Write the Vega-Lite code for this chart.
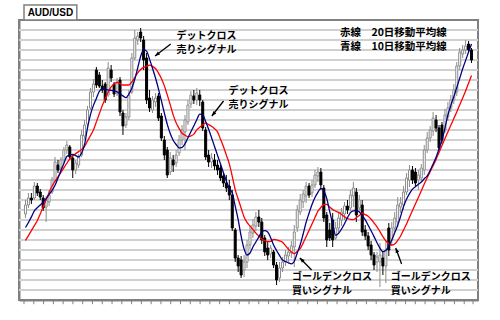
{
"$schema": "https://vega.github.io/schema/vega-lite/v6.json",
"width": 459, "height": 280,
"autosize": {"type": "none"},
"padding": {"left": 19, "top": 20, "right": 22, "bottom": 20},
"background": "white",
"config": {"view": {"stroke": "#808080", "strokeWidth": 2},
"axisY": {"grid": false, "labels": false, "ticks": false, "domainColor": "#808080", "domainWidth": 2},
"axisX": {"grid": false, "labels": false, "ticks": false, "domainColor": "#808080", "domainWidth": 2}},
"datasets": {
"levels": [{"p":0.71},{"p":0.72},{"p":0.73},{"p":0.74},{"p":0.75},{"p":0.76},{"p":0.77},{"p":0.78},{"p":0.79},{"p":0.80},{"p":0.81},{"p":0.82},{"p":0.83},{"p":0.84},{"p":0.85},{"p":0.86},{"p":0.87},{"p":0.88},{"p":0.89},{"p":0.90},{"p":0.91},{"p":0.92},{"p":0.93},{"p":0.94},{"p":0.95},{"p":0.96},{"p":0.97}],
"ticks": [{"t":0.5},{"t":3.8116},{"t":7.1231},{"t":10.4347},{"t":13.7462},{"t":17.0578},{"t":20.3693},{"t":23.6809},{"t":26.9924},{"t":30.304},{"t":33.6155},{"t":36.9271},{"t":40.2386},{"t":43.5502},{"t":46.8617},{"t":50.1733},{"t":53.4848},{"t":56.7964},{"t":60.1079},{"t":63.4195},{"t":66.731},{"t":70.0426},{"t":73.3541},{"t":76.6657},{"t":79.9772},{"t":83.2888},{"t":86.6003},{"t":89.9119},{"t":93.2234},{"t":96.535},{"t":99.8465},{"t":103.1581},{"t":106.4696},{"t":109.7812},{"t":113.0927},{"t":116.4043},{"t":119.7158},{"t":123.0274},{"t":126.3389},{"t":129.6505},{"t":132.962},{"t":136.2736},{"t":139.5851},{"t":142.8967},{"t":146.2082},{"t":149.5198},{"t":152.5}],
"candles": [
{"t":1,"o":0.786,"h":0.800,"l":0.782,"c":0.795,"m10":0.7725,"m20":0.7595},
{"t":2,"o":0.795,"h":0.807,"l":0.792,"c":0.802,"m10":0.7775,"m20":0.7644},
{"t":3,"o":0.802,"h":0.807,"l":0.796,"c":0.800,"m10":0.7831,"m20":0.7694},
{"t":4,"o":0.802,"h":0.818,"l":0.800,"c":0.814,"m10":0.7892,"m20":0.7743},
{"t":5,"o":0.814,"h":0.817,"l":0.804,"c":0.807,"m10":0.7923,"m20":0.7793},
{"t":6,"o":0.808,"h":0.811,"l":0.800,"c":0.803,"m10":0.795,"m20":0.7861},
{"t":7,"o":0.802,"h":0.805,"l":0.789,"c":0.792,"m10":0.7978,"m20":0.7933},
{"t":8,"o":0.793,"h":0.804,"l":0.778,"c":0.800,"m10":0.8013,"m20":0.8004},
{"t":9,"o":0.798,"h":0.810,"l":0.794,"c":0.805,"m10":0.8055,"m20":0.8075},
{"t":10,"o":0.808,"h":0.823,"l":0.806,"c":0.820,"m10":0.8097,"m20":0.814},
{"t":11,"o":0.820,"h":0.843,"l":0.818,"c":0.838,"m10":0.8147,"m20":0.8186},
{"t":12,"o":0.835,"h":0.840,"l":0.827,"c":0.830,"m10":0.822,"m20":0.8231},
{"t":13,"o":0.832,"h":0.843,"l":0.829,"c":0.840,"m10":0.8294,"m20":0.8276},
{"t":14,"o":0.840,"h":0.853,"l":0.837,"c":0.850,"m10":0.8365,"m20":0.8322},
{"t":15,"o":0.850,"h":0.859,"l":0.846,"c":0.855,"m10":0.8435,"m20":0.8367},
{"t":16,"o":0.853,"h":0.855,"l":0.840,"c":0.843,"m10":0.845,"m20":0.8412},
{"t":17,"o":0.842,"h":0.845,"l":0.822,"c":0.830,"m10":0.8457,"m20":0.8443},
{"t":18,"o":0.830,"h":0.840,"l":0.826,"c":0.837,"m10":0.8444,"m20":0.8464},
{"t":19,"o":0.835,"h":0.846,"l":0.832,"c":0.843,"m10":0.8431,"m20":0.8484},
{"t":20,"o":0.845,"h":0.870,"l":0.843,"c":0.865,"m10":0.847,"m20":0.8505},
{"t":21,"o":0.864,"h":0.880,"l":0.861,"c":0.875,"m10":0.8555,"m20":0.8536},
{"t":22,"o":0.876,"h":0.894,"l":0.873,"c":0.890,"m10":0.8721,"m20":0.8591},
{"t":23,"o":0.892,"h":0.912,"l":0.890,"c":0.908,"m10":0.8854,"m20":0.8645},
{"t":24,"o":0.908,"h":0.921,"l":0.903,"c":0.916,"m10":0.8946,"m20":0.8699},
{"t":25,"o":0.930,"h":0.933,"l":0.912,"c":0.915,"m10":0.9016,"m20":0.8781},
{"t":26,"o":0.925,"h":0.928,"l":0.912,"c":0.914,"m10":0.9087,"m20":0.8862},
{"t":27,"o":0.914,"h":0.920,"l":0.907,"c":0.910,"m10":0.9108,"m20":0.8944},
{"t":28,"o":0.916,"h":0.918,"l":0.897,"c":0.900,"m10":0.9105,"m20":0.9014},
{"t":29,"o":0.905,"h":0.938,"l":0.903,"c":0.932,"m10":0.9102,"m20":0.9079},
{"t":30,"o":0.930,"h":0.935,"l":0.918,"c":0.922,"m10":0.9097,"m20":0.9131},
{"t":31,"o":0.916,"h":0.918,"l":0.903,"c":0.906,"m10":0.909,"m20":0.9161},
{"t":32,"o":0.906,"h":0.922,"l":0.904,"c":0.918,"m10":0.9082,"m20":0.9175},
{"t":33,"o":0.920,"h":0.923,"l":0.884,"c":0.888,"m10":0.9064,"m20":0.9163},
{"t":34,"o":0.887,"h":0.890,"l":0.865,"c":0.874,"m10":0.9041,"m20":0.915},
{"t":35,"o":0.875,"h":0.887,"l":0.872,"c":0.883,"m10":0.9023,"m20":0.915},
{"t":36,"o":0.883,"h":0.910,"l":0.880,"c":0.905,"m10":0.9059,"m20":0.915},
{"t":37,"o":0.908,"h":0.947,"l":0.906,"c":0.942,"m10":0.9117,"m20":0.9181},
{"t":38,"o":0.942,"h":0.970,"l":0.940,"c":0.962,"m10":0.9207,"m20":0.9224},
{"t":39,"o":0.960,"h":0.968,"l":0.955,"c":0.964,"m10":0.9321,"m20":0.9272},
{"t":40,"o":0.968,"h":0.972,"l":0.958,"c":0.962,"m10":0.9437,"m20":0.9306},
{"t":41,"o":0.960,"h":0.964,"l":0.930,"c":0.940,"m10":0.9504,"m20":0.9326},
{"t":42,"o":0.942,"h":0.947,"l":0.896,"c":0.900,"m10":0.9489,"m20":0.9338},
{"t":43,"o":0.902,"h":0.910,"l":0.888,"c":0.892,"m10":0.9409,"m20":0.9348},
{"t":44,"o":0.890,"h":0.904,"l":0.887,"c":0.900,"m10":0.9318,"m20":0.9336},
{"t":45,"o":0.898,"h":0.907,"l":0.893,"c":0.902,"m10":0.9222,"m20":0.9315},
{"t":46,"o":0.904,"h":0.907,"l":0.879,"c":0.882,"m10":0.9114,"m20":0.9272},
{"t":47,"o":0.884,"h":0.887,"l":0.859,"c":0.862,"m10":0.8993,"m20":0.9216},
{"t":48,"o":0.860,"h":0.864,"l":0.840,"c":0.845,"m10":0.8872,"m20":0.9144},
{"t":49,"o":0.850,"h":0.853,"l":0.822,"c":0.825,"m10":0.8756,"m20":0.9051},
{"t":50,"o":0.828,"h":0.848,"l":0.825,"c":0.842,"m10":0.8665,"m20":0.8954},
{"t":51,"o":0.840,"h":0.845,"l":0.828,"c":0.835,"m10":0.8598,"m20":0.8851},
{"t":52,"o":0.837,"h":0.850,"l":0.833,"c":0.845,"m10":0.8555,"m20":0.8772},
{"t":53,"o":0.847,"h":0.865,"l":0.844,"c":0.860,"m10":0.8521,"m20":0.8716},
{"t":54,"o":0.860,"h":0.875,"l":0.855,"c":0.870,"m10":0.8527,"m20":0.8667},
{"t":55,"o":0.868,"h":0.885,"l":0.850,"c":0.880,"m10":0.8562,"m20":0.8649},
{"t":56,"o":0.878,"h":0.900,"l":0.875,"c":0.895,"m10":0.8622,"m20":0.8632},
{"t":57,"o":0.896,"h":0.909,"l":0.892,"c":0.905,"m10":0.8682,"m20":0.864},
{"t":58,"o":0.904,"h":0.910,"l":0.896,"c":0.900,"m10":0.8743,"m20":0.8659},
{"t":59,"o":0.900,"h":0.912,"l":0.895,"c":0.907,"m10":0.8803,"m20":0.8701},
{"t":60,"o":0.905,"h":0.910,"l":0.894,"c":0.900,"m10":0.8858,"m20":0.8727},
{"t":61,"o":0.898,"h":0.900,"l":0.869,"c":0.872,"m10":0.8852,"m20":0.8751},
{"t":62,"o":0.870,"h":0.873,"l":0.840,"c":0.843,"m10":0.8785,"m20":0.8769},
{"t":63,"o":0.845,"h":0.850,"l":0.833,"c":0.838,"m10":0.8707,"m20":0.8754},
{"t":64,"o":0.838,"h":0.847,"l":0.832,"c":0.842,"m10":0.8622,"m20":0.8737},
{"t":65,"o":0.840,"h":0.846,"l":0.830,"c":0.834,"m10":0.8535,"m20":0.8712},
{"t":66,"o":0.835,"h":0.840,"l":0.825,"c":0.830,"m10":0.8449,"m20":0.8682},
{"t":67,"o":0.832,"h":0.835,"l":0.819,"c":0.822,"m10":0.8362,"m20":0.861},
{"t":68,"o":0.824,"h":0.828,"l":0.813,"c":0.817,"m10":0.8275,"m20":0.8535},
{"t":69,"o":0.817,"h":0.825,"l":0.808,"c":0.812,"m10":0.819,"m20":0.8449},
{"t":70,"o":0.814,"h":0.820,"l":0.800,"c":0.805,"m10":0.8117,"m20":0.8362},
{"t":71,"o":0.805,"h":0.810,"l":0.769,"c":0.772,"m10":0.8072,"m20":0.8237},
{"t":72,"o":0.770,"h":0.772,"l":0.738,"c":0.742,"m10":0.7939,"m20":0.8104},
{"t":73,"o":0.742,"h":0.745,"l":0.728,"c":0.734,"m10":0.7803,"m20":0.801},
{"t":74,"o":0.740,"h":0.744,"l":0.722,"c":0.725,"m10":0.764,"m20":0.792},
{"t":75,"o":0.730,"h":0.745,"l":0.723,"c":0.738,"m10":0.7511,"m20":0.783},
{"t":76,"o":0.738,"h":0.760,"l":0.732,"c":0.755,"m10":0.745,"m20":0.7776},
{"t":77,"o":0.755,"h":0.774,"l":0.751,"c":0.768,"m10":0.747,"m20":0.774},
{"t":78,"o":0.767,"h":0.781,"l":0.762,"c":0.775,"m10":0.753,"m20":0.7704},
{"t":79,"o":0.774,"h":0.788,"l":0.769,"c":0.783,"m10":0.758,"m20":0.7669},
{"t":80,"o":0.783,"h":0.790,"l":0.773,"c":0.778,"m10":0.7631,"m20":0.7639},
{"t":81,"o":0.778,"h":0.782,"l":0.756,"c":0.760,"m10":0.768,"m20":0.7609},
{"t":82,"o":0.762,"h":0.765,"l":0.744,"c":0.748,"m10":0.7693,"m20":0.7594},
{"t":83,"o":0.752,"h":0.758,"l":0.740,"c":0.745,"m10":0.7681,"m20":0.7585},
{"t":84,"o":0.746,"h":0.755,"l":0.742,"c":0.752,"m10":0.7623,"m20":0.7587},
{"t":85,"o":0.748,"h":0.750,"l":0.732,"c":0.735,"m10":0.755,"m20":0.7605},
{"t":86,"o":0.735,"h":0.738,"l":0.715,"c":0.720,"m10":0.7495,"m20":0.7602},
{"t":87,"o":0.722,"h":0.738,"l":0.718,"c":0.732,"m10":0.7446,"m20":0.7591},
{"t":88,"o":0.732,"h":0.743,"l":0.728,"c":0.738,"m10":0.7399,"m20":0.7578},
{"t":89,"o":0.738,"h":0.750,"l":0.734,"c":0.745,"m10":0.7386,"m20":0.7543},
{"t":90,"o":0.744,"h":0.753,"l":0.738,"c":0.748,"m10":0.7372,"m20":0.7509},
{"t":91,"o":0.747,"h":0.759,"l":0.742,"c":0.754,"m10":0.7361,"m20":0.7482},
{"t":92,"o":0.753,"h":0.775,"l":0.733,"c":0.768,"m10":0.7388,"m20":0.7463},
{"t":93,"o":0.772,"h":0.795,"l":0.768,"c":0.790,"m10":0.747,"m20":0.7488},
{"t":94,"o":0.788,"h":0.806,"l":0.785,"c":0.800,"m10":0.7552,"m20":0.7514},
{"t":95,"o":0.798,"h":0.810,"l":0.792,"c":0.806,"m10":0.766,"m20":0.7569},
{"t":96,"o":0.804,"h":0.818,"l":0.797,"c":0.814,"m10":0.7776,"m20":0.7633},
{"t":97,"o":0.814,"h":0.817,"l":0.802,"c":0.805,"m10":0.7868,"m20":0.7696},
{"t":98,"o":0.807,"h":0.820,"l":0.803,"c":0.815,"m10":0.7955,"m20":0.776},
{"t":99,"o":0.815,"h":0.830,"l":0.812,"c":0.825,"m10":0.8025,"m20":0.7824},
{"t":100,"o":0.824,"h":0.833,"l":0.818,"c":0.828,"m10":0.8077,"m20":0.7888},
{"t":101,"o":0.828,"h":0.832,"l":0.810,"c":0.815,"m10":0.8116,"m20":0.7925},
{"t":102,"o":0.812,"h":0.815,"l":0.778,"c":0.782,"m10":0.8092,"m20":0.7955},
{"t":103,"o":0.785,"h":0.788,"l":0.753,"c":0.760,"m10":0.8014,"m20":0.7957},
{"t":104,"o":0.770,"h":0.777,"l":0.759,"c":0.762,"m10":0.7883,"m20":0.793},
{"t":105,"o":0.780,"h":0.787,"l":0.753,"c":0.760,"m10":0.7761,"m20":0.7904},
{"t":106,"o":0.762,"h":0.778,"l":0.760,"c":0.772,"m10":0.7646,"m20":0.7889},
{"t":107,"o":0.772,"h":0.788,"l":0.768,"c":0.782,"m10":0.7667,"m20":0.7876},
{"t":108,"o":0.780,"h":0.792,"l":0.774,"c":0.788,"m10":0.771,"m20":0.7856},
{"t":109,"o":0.786,"h":0.798,"l":0.780,"c":0.794,"m10":0.7763,"m20":0.7831},
{"t":110,"o":0.794,"h":0.800,"l":0.786,"c":0.790,"m10":0.7823,"m20":0.7815},
{"t":111,"o":0.792,"h":0.810,"l":0.789,"c":0.805,"m10":0.7874,"m20":0.7806},
{"t":112,"o":0.804,"h":0.818,"l":0.793,"c":0.812,"m10":0.7892,"m20":0.7804},
{"t":113,"o":0.808,"h":0.812,"l":0.778,"c":0.785,"m10":0.7893,"m20":0.7822},
{"t":114,"o":0.792,"h":0.805,"l":0.788,"c":0.800,"m10":0.7881,"m20":0.7844},
{"t":115,"o":0.795,"h":0.800,"l":0.764,"c":0.768,"m10":0.7843,"m20":0.7868},
{"t":116,"o":0.770,"h":0.775,"l":0.760,"c":0.764,"m10":0.7803,"m20":0.7854},
{"t":117,"o":0.764,"h":0.768,"l":0.750,"c":0.754,"m10":0.7748,"m20":0.7837},
{"t":118,"o":0.755,"h":0.759,"l":0.740,"c":0.745,"m10":0.7692,"m20":0.7807},
{"t":119,"o":0.745,"h":0.748,"l":0.730,"c":0.735,"m10":0.7634,"m20":0.777},
{"t":120,"o":0.738,"h":0.748,"l":0.728,"c":0.743,"m10":0.7573,"m20":0.7732},
{"t":121,"o":0.738,"h":0.757,"l":0.713,"c":0.745,"m10":0.7519,"m20":0.7683},
{"t":122,"o":0.742,"h":0.748,"l":0.725,"c":0.734,"m10":0.7484,"m20":0.7634},
{"t":123,"o":0.734,"h":0.760,"l":0.717,"c":0.750,"m10":0.7496,"m20":0.7591},
{"t":124,"o":0.772,"h":0.777,"l":0.744,"c":0.750,"m10":0.7539,"m20":0.7561},
{"t":125,"o":0.760,"h":0.778,"l":0.754,"c":0.772,"m10":0.7599,"m20":0.755},
{"t":126,"o":0.772,"h":0.788,"l":0.768,"c":0.782,"m10":0.7672,"m20":0.7561},
{"t":127,"o":0.778,"h":0.803,"l":0.773,"c":0.795,"m10":0.7745,"m20":0.7596},
{"t":128,"o":0.793,"h":0.803,"l":0.787,"c":0.797,"m10":0.7836,"m20":0.764},
{"t":129,"o":0.795,"h":0.814,"l":0.790,"c":0.808,"m10":0.7936,"m20":0.7701},
{"t":130,"o":0.808,"h":0.827,"l":0.805,"c":0.822,"m10":0.8008,"m20":0.7761},
{"t":131,"o":0.820,"h":0.835,"l":0.813,"c":0.830,"m10":0.8064,"m20":0.7828},
{"t":132,"o":0.830,"h":0.834,"l":0.816,"c":0.820,"m10":0.8109,"m20":0.7894},
{"t":133,"o":0.828,"h":0.832,"l":0.814,"c":0.817,"m10":0.8133,"m20":0.796},
{"t":134,"o":0.820,"h":0.830,"l":0.810,"c":0.825,"m10":0.8157,"m20":0.8026},
{"t":135,"o":0.822,"h":0.836,"l":0.819,"c":0.832,"m10":0.8181,"m20":0.8092},
{"t":136,"o":0.830,"h":0.855,"l":0.825,"c":0.850,"m10":0.8212,"m20":0.8159},
{"t":137,"o":0.850,"h":0.868,"l":0.847,"c":0.862,"m10":0.8242,"m20":0.8223},
{"t":138,"o":0.862,"h":0.874,"l":0.858,"c":0.870,"m10":0.8297,"m20":0.8284},
{"t":139,"o":0.869,"h":0.888,"l":0.864,"c":0.882,"m10":0.8361,"m20":0.8344},
{"t":140,"o":0.880,"h":0.885,"l":0.868,"c":0.872,"m10":0.8427,"m20":0.8406},
{"t":141,"o":0.872,"h":0.875,"l":0.849,"c":0.852,"m10":0.8513,"m20":0.8475},
{"t":142,"o":0.875,"h":0.878,"l":0.856,"c":0.860,"m10":0.8599,"m20":0.8544},
{"t":143,"o":0.870,"h":0.891,"l":0.867,"c":0.885,"m10":0.8719,"m20":0.8614},
{"t":144,"o":0.883,"h":0.898,"l":0.879,"c":0.892,"m10":0.885,"m20":0.8681},
{"t":145,"o":0.892,"h":0.905,"l":0.888,"c":0.900,"m10":0.8946,"m20":0.8747},
{"t":146,"o":0.900,"h":0.916,"l":0.896,"c":0.910,"m10":0.9033,"m20":0.8814},
{"t":147,"o":0.908,"h":0.938,"l":0.904,"c":0.934,"m10":0.9123,"m20":0.8881},
{"t":148,"o":0.934,"h":0.952,"l":0.930,"c":0.948,"m10":0.9218,"m20":0.8951},
{"t":149,"o":0.946,"h":0.955,"l":0.942,"c":0.950,"m10":0.9312,"m20":0.902},
{"t":150,"o":0.950,"h":0.960,"l":0.946,"c":0.954,"m10":0.9396,"m20":0.909},
{"t":151,"o":0.956,"h":0.959,"l":0.947,"c":0.950,"m10":0.948,"m20":0.9168},
{"t":152,"o":0.950,"h":0.952,"l":0.937,"c":0.940,"m10":0.956,"m20":0.9246}
],
"arrows": [
{"id":"a1","t":50.17,"p":0.956,"t2":44.87,"p2":0.944},
{"id":"a2","t":68.06,"p":0.899,"t2":64.08,"p2":0.884},
{"id":"a3","t":97.86,"p":0.730,"t2":93.89,"p2":0.742},
{"id":"a4","t":128.33,"p":0.736,"t2":126.34,"p2":0.752}
],
"notes": [
{"t":52.16,"p":0.9645,"text":"デットクロス"},
{"t":52.16,"p":0.9505,"text":"売りシグナル"},
{"t":69.71,"p":0.9095,"text":"デットクロス"},
{"t":69.71,"p":0.8955,"text":"売りシグナル"},
{"t":91.24,"p":0.7235,"text":"ゴールデンクロス"},
{"t":91.24,"p":0.7095,"text":"買いシグナル"},
{"t":124.68,"p":0.7235,"text":"ゴールデンクロス"},
{"t":124.68,"p":0.7095,"text":"買いシグナル"}
],
"legend": [
{"t":107.46,"p":0.9675,"text":"赤線　20日移動平均線"},
{"t":107.46,"p":0.9535,"text":"青線　10日移動平均線"}
],
"tab": [
{"t":0.5,"t2":18.38,"p":0.98,"p2":0.995,"tc":9.44,"pc":0.9873,"text":"AUD/USD"}
]
},
"layer": [
{
"data": {"name": "levels"},
"mark": {"type": "rule", "color": "#d0d0d0", "strokeWidth": 2},
"encoding": {
"y": {"field": "p", "type": "quantitative", "title": null,
"scale": {"domain": [0.70, 0.98], "nice": false, "zero": false},
"axis": {"values": [0.75, 0.85, 0.95]}}
}
},
{
"data": {"name": "ticks"},
"mark": {"type": "rule", "color": "#808080", "strokeWidth": 1},
"encoding": {
"x": {"field": "t", "type": "quantitative", "title": null,
"scale": {"domain": [0.5, 152.5], "nice": false, "zero": false},
"axis": {"values": [10, 50, 90, 130]}},
"y": {"datum": 0.70, "type": "quantitative", "scale": {"domain": [0.70, 0.98], "nice": false, "zero": false}},
"y2": {"datum": 0.6958}
}
},
{
"data": {"name": "candles"},
"mark": {"type": "rule", "strokeWidth": 1},
"encoding": {
"x": {"field": "t", "type": "quantitative", "title": null, "scale": {"domain": [0.5, 152.5], "nice": false, "zero": false}},
"y": {"field": "l", "type": "quantitative", "title": null, "scale": {"domain": [0.70, 0.98], "nice": false, "zero": false}},
"y2": {"field": "h"},
"color": {"condition": {"test": "datum.c >= datum.o", "value": "#8c8c8c"}, "value": "#000000"}
}
},
{
"data": {"name": "candles"},
"mark": {"type": "bar", "size": 2, "strokeWidth": 1},
"encoding": {
"x": {"field": "t", "type": "quantitative", "title": null, "scale": {"domain": [0.5, 152.5], "nice": false, "zero": false}},
"y": {"field": "o", "type": "quantitative", "title": null, "scale": {"domain": [0.70, 0.98], "nice": false, "zero": false}},
"y2": {"field": "c"},
"fill": {"condition": {"test": "datum.c >= datum.o", "value": "#ffffff"}, "value": "#000000"},
"stroke": {"condition": {"test": "datum.c >= datum.o", "value": "#8c8c8c"}, "value": "#000000"}
}
},
{
"data": {"name": "candles"},
"mark": {"type": "line", "color": "#ff0000", "strokeWidth": 1.3, "interpolate": "monotone"},
"encoding": {
"x": {"field": "t", "type": "quantitative", "title": null, "scale": {"domain": [0.5, 152.5], "nice": false, "zero": false}},
"y": {"field": "m20", "type": "quantitative", "title": null, "scale": {"domain": [0.70, 0.98], "nice": false, "zero": false}}
}
},
{
"data": {"name": "candles"},
"mark": {"type": "line", "color": "#000080", "strokeWidth": 1.3, "interpolate": "monotone"},
"encoding": {
"x": {"field": "t", "type": "quantitative", "title": null, "scale": {"domain": [0.5, 152.5], "nice": false, "zero": false}},
"y": {"field": "m10", "type": "quantitative", "title": null, "scale": {"domain": [0.70, 0.98], "nice": false, "zero": false}}
}
},
{
"data": {"name": "arrows"},
"mark": {"type": "rule", "color": "#000000", "strokeWidth": 1.3},
"encoding": {
"x": {"field": "t", "type": "quantitative", "title": null, "scale": {"domain": [0.5, 152.5], "nice": false, "zero": false}},
"y": {"field": "p", "type": "quantitative", "title": null, "scale": {"domain": [0.70, 0.98], "nice": false, "zero": false}},
"x2": {"field": "t2"},
"y2": {"field": "p2"}
}
},
{
"data": {"name": "arrows"},
"transform": [{"filter": "datum.id == 'a1'"}],
"mark": {"type": "point", "shape": "M0,0L-1,2.6L1,2.6Z", "size": 14, "filled": true, "color": "#000000", "opacity": 1, "angle": 233},
"encoding": {
"x": {"field": "t2", "type": "quantitative", "title": null, "scale": {"domain": [0.5, 152.5], "nice": false, "zero": false}},
"y": {"field": "p2", "type": "quantitative", "title": null, "scale": {"domain": [0.70, 0.98], "nice": false, "zero": false}}
}
},
{
"data": {"name": "arrows"},
"transform": [{"filter": "datum.id == 'a2'"}],
"mark": {"type": "point", "shape": "M0,0L-1,2.6L1,2.6Z", "size": 14, "filled": true, "color": "#000000", "opacity": 1, "angle": 219},
"encoding": {
"x": {"field": "t2", "type": "quantitative", "title": null, "scale": {"domain": [0.5, 152.5], "nice": false, "zero": false}},
"y": {"field": "p2", "type": "quantitative", "title": null, "scale": {"domain": [0.70, 0.98], "nice": false, "zero": false}}
}
},
{
"data": {"name": "arrows"},
"transform": [{"filter": "datum.id == 'a3'"}],
"mark": {"type": "point", "shape": "M0,0L-1,2.6L1,2.6Z", "size": 14, "filled": true, "color": "#000000", "opacity": 1, "angle": 315},
"encoding": {
"x": {"field": "t2", "type": "quantitative", "title": null, "scale": {"domain": [0.5, 152.5], "nice": false, "zero": false}},
"y": {"field": "p2", "type": "quantitative", "title": null, "scale": {"domain": [0.70, 0.98], "nice": false, "zero": false}}
}
},
{
"data": {"name": "arrows"},
"transform": [{"filter": "datum.id == 'a4'"}],
"mark": {"type": "point", "shape": "M0,0L-1,2.6L1,2.6Z", "size": 14, "filled": true, "color": "#000000", "opacity": 1, "angle": 339},
"encoding": {
"x": {"field": "t2", "type": "quantitative", "title": null, "scale": {"domain": [0.5, 152.5], "nice": false, "zero": false}},
"y": {"field": "p2", "type": "quantitative", "title": null, "scale": {"domain": [0.70, 0.98], "nice": false, "zero": false}}
}
},
{
"data": {"name": "notes"},
"mark": {"type": "text", "align": "left", "baseline": "middle", "font": "Noto Sans CJK JP", "fontWeight": "bold", "fontSize": 10, "color": "#000000"},
"encoding": {
"x": {"field": "t", "type": "quantitative", "title": null, "scale": {"domain": [0.5, 152.5], "nice": false, "zero": false}},
"y": {"field": "p", "type": "quantitative", "title": null, "scale": {"domain": [0.70, 0.98], "nice": false, "zero": false}},
"text": {"field": "text"}
}
},
{
"data": {"name": "legend"},
"mark": {"type": "text", "align": "left", "baseline": "middle", "font": "Noto Sans CJK JP", "fontWeight": "bold", "fontSize": 10.5, "color": "#000000"},
"encoding": {
"x": {"field": "t", "type": "quantitative", "title": null, "scale": {"domain": [0.5, 152.5], "nice": false, "zero": false}},
"y": {"field": "p", "type": "quantitative", "title": null, "scale": {"domain": [0.70, 0.98], "nice": false, "zero": false}},
"text": {"field": "text"}
}
},
{
"data": {"name": "tab"},
"mark": {"type": "rect", "fill": "#ffffff", "stroke": "#808080", "strokeWidth": 1.5},
"encoding": {
"x": {"field": "t", "type": "quantitative", "title": null, "scale": {"domain": [0.5, 152.5], "nice": false, "zero": false}},
"x2": {"field": "t2"},
"y": {"field": "p", "type": "quantitative", "title": null, "scale": {"domain": [0.70, 0.98], "nice": false, "zero": false}},
"y2": {"field": "p2"}
}
},
{
"data": {"name": "tab"},
"mark": {"type": "text", "align": "center", "baseline": "middle", "font": "Liberation Sans", "fontWeight": "bold", "fontSize": 10, "color": "#000000"},
"encoding": {
"x": {"field": "tc", "type": "quantitative", "title": null, "scale": {"domain": [0.5, 152.5], "nice": false, "zero": false}},
"y": {"field": "pc", "type": "quantitative", "title": null, "scale": {"domain": [0.70, 0.98], "nice": false, "zero": false}},
"text": {"field": "text"}
}
}
]
}
